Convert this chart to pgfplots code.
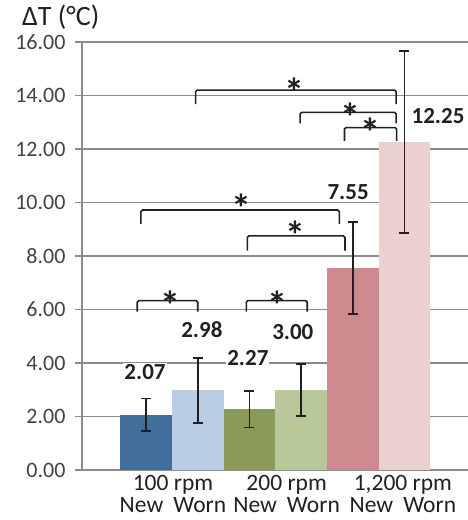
\documentclass[border=0pt]{standalone}
\usepackage{fontspec}
\setmainfont{Carlito}
\usepackage{pgfplots}
\pgfplotsset{compat=1.18}

\definecolor{c1}{RGB}{66,110,156}
\definecolor{c2}{RGB}{185,205,229}
\definecolor{c3}{RGB}{138,154,91}
\definecolor{c4}{RGB}{184,200,154}
\definecolor{c5}{RGB}{204,138,142}
\definecolor{c6}{RGB}{235,208,208}
\definecolor{gridc}{RGB}{140,140,140}
\definecolor{ink}{RGB}{35,31,32}

\newcommand{\sigstar}{\smash{*}}

\begin{document}
\begin{tikzpicture}[
  vlab/.style={font=\bfseries\fontsize{23}{23}\selectfont, text=ink, fill=white, inner sep=1pt, anchor=center},
  sig/.style={font=\bfseries\fontsize{40}{40}\selectfont, text=ink, inner sep=0pt, anchor=base, yshift=-23pt},
  brk/.style={line width=1.6pt, draw=ink, rounded corners=1.5pt},
]
\begin{axis}[
  at={(0,0)}, anchor=south west,
  scale only axis, width=386pt, height=428pt,
  xmin=-1.24, xmax=6.23, ymin=0, ymax=16,
  axis x line*=bottom, axis y line*=left,
  x axis line style={draw=none},
  y axis line style={-, draw=gridc, line width=1.6pt},
  ytick={0,2,...,16},
  ymajorgrids, grid style={draw=gridc, line width=1.6pt},
  tick align=outside, major tick length=7pt,
  ytick style={draw=gridc, line width=1.6pt},
  xtick style={draw=none},
  yticklabel style={font=\fontsize{22}{22}\selectfont, text=ink!85, xshift=-6pt,
    /pgf/number format/.cd, fixed, fixed zerofill, precision=2, assume math mode=true},
  xtick={0.52,2.72,4.97},
  xticklabels={{100 rpm\\New\hspace{10pt}Worn},{200 rpm\\New\hspace{10pt}Worn},{1,200 rpm\\New\hspace{10pt}Worn}},
  xticklabel style={font=\fontsize{23.5}{22}\selectfont, text=ink, align=center, yshift=5pt},
  ybar, bar width=51.7pt,
  every axis plot/.append style={draw=none},
  error bars/y dir=both, error bars/y explicit,
  error bars/error bar style={line width=1.8pt, draw=ink},
  error bars/error mark options={rotate=90, mark size=5pt, line width=1.8pt, draw=ink},
  clip=false,
]
\addplot[fill=c1, bar shift=0pt] coordinates {(0,2.07) +- (0,0.60)};
\addplot[fill=c2, bar shift=0pt] coordinates {(1,2.98) +- (0,1.21)};
\addplot[fill=c3, bar shift=0pt] coordinates {(2,2.27) +- (0,0.68)};
\addplot[fill=c4, bar shift=0pt] coordinates {(3,3.00) +- (0,0.97)};
\addplot[fill=c5, bar shift=0pt] coordinates {(4,7.55) +- (0,1.73)};
\addplot[fill=c6, bar shift=0pt] coordinates {(5,12.25) +- (0,3.40)};

% value labels
\node[vlab] at (-0.02,3.67) {2.07};
\node[vlab] at (1.08,5.24) {2.98};
\node[vlab] at (1.97,4.19) {2.27};
\node[vlab] at (2.84,5.16) {3.00};
\node[vlab] at (3.91,10.37) {7.55};
\node[vlab] at (5.65,13.25) {12.25};

% significance brackets
\draw[brk] (-0.17,5.92) -- (-0.17,6.33) -- (1.00,6.33) -- (1.00,5.92);
\node[sig] at (0.48,6.47) {\sigstar};
\draw[brk] (1.94,5.92) -- (1.94,6.33) -- (3.12,6.33) -- (3.12,5.92);
\node[sig] at (2.55,6.47) {\sigstar};
\draw[brk] (1.96,8.20) -- (1.96,8.75) -- (3.85,8.75) -- (3.85,8.20);
\node[sig] at (2.90,9.10) {\sigstar};
\draw[brk] (-0.10,9.20) -- (-0.10,9.72) -- (3.74,9.72) -- (3.74,9.20);
\node[sig] at (1.84,10.10) {\sigstar};
\draw[brk] (0.96,13.68) -- (0.96,14.20) -- (4.84,14.20) -- (4.84,13.68);
\node[sig] at (2.87,14.43) {\sigstar};
\draw[brk] (2.98,12.96) -- (2.98,13.37) -- (4.84,13.37) -- (4.84,12.96);
\node[sig] at (3.96,13.50) {\sigstar};
\draw[brk] (3.84,12.30) -- (3.84,12.80) -- (4.85,12.80) -- (4.85,12.30);
\node[sig] at (4.34,12.97) {\sigstar};

\node[font=\fontsize{28}{28}\selectfont, text=ink, anchor=base west, inner sep=0pt]
  at ([xshift=-60pt, yshift=16pt]rel axis cs:0,1) {ΔT (°C)};
\end{axis}
\pgfresetboundingbox
\path (-82pt,-50pt) rectangle (386pt,470pt);
\end{tikzpicture}
\end{document}
